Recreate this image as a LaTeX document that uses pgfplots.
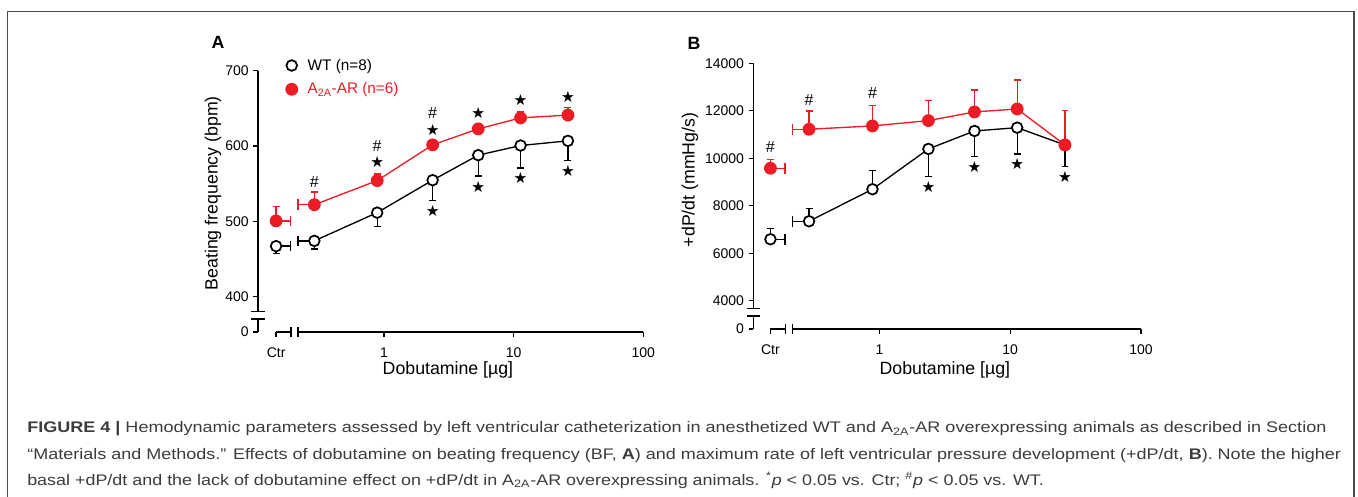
\documentclass[border=0pt]{standalone}
\usepackage{fontspec}
\setmainfont{Liberation Sans}
\newfontfamily\sym{DejaVu Sans}
\usepackage{graphicx}
\usepackage{pgfplots}
\pgfplotsset{compat=1.18}
\definecolor{ared}{RGB}{237,28,36}
\definecolor{capgray}{RGB}{60,60,60}

\pgfplotsset{
  every axis/.append style={
    scale only axis, clip=false,
    axis lines=left, axis line style={draw=none},
    tick align=outside, major tick length=3.5pt,
    tick style={black, line width=0.9pt},
    xticklabel style={yshift=-5pt},
    tick label style={font=\fontsize{10.5}{12}\selectfont},
    label style={font=\fontsize{13.3}{15}\selectfont},
    scaled ticks=false,
  },
  wtline/.style={black, line width=1pt, mark=*, mark size=4pt,
    mark options={fill=white, draw=black, line width=1.3pt}},
  arline/.style={ared, line width=1pt, mark=*, mark size=4.3pt,
    mark options={fill=ared, draw=ared}},
  ebar/.style={only marks, mark=none, forget plot,
    error bars/.cd, y dir=#1, y explicit,
    error bar style={line width=1pt},
    error mark options={rotate=90, mark size=2.6pt, line width=1pt}},
  link/.style={forget plot, line width=1pt, mark=|, mark size=4pt,
    mark options={line width=1pt}},
  signs/.style={only marks, mark=none, forget plot, nodes near coords,
    point meta=explicit symbolic,
    nodes near coords style={anchor=center, inner sep=0pt, black, font=#1}},
}

\begin{document}
\begin{tikzpicture}
\path[use as bounding box] (0,0) rectangle (1018.5pt,372pt);
\draw[black!70, line width=1.1pt] (5.5pt,-2pt) -- (5.5pt,363.2pt) -- (1015.5pt,363.2pt) -- (1015.5pt,-2pt);

\node[font=\bfseries\fontsize{13.3}{15}\selectfont] at (163.5pt,340.5pt) {A};
\node[font=\bfseries\fontsize{13.3}{15}\selectfont] at (520.5pt,339.75pt) {B};

% ---- panel A: beating frequency
\begin{axis}[
  xmode=log, xmin=0.1066, xmax=100,
  xtick={0.147,1,10,100}, xticklabels={Ctr,1,10,100},
  xminorticks=false,
  at={(193.5pt,123pt)}, anchor=south west,
  width=289pt, height=196pt,
  ymin=353, ymax=700,
  ytick={353,400,500,600,700}, yticklabels={0,400,500,600,700},
  xlabel={Dobutamine [µg]},
  ylabel={Beating frequency (bpm)},
  ylabel style={at={(axis description cs:-0.117,0.531)}, anchor=center},
  xlabel style={at={(axis description cs:0.493,-0.146)}, anchor=center},
  legend image code/.code={\path[draw=none,fill=none] (0cm,0cm) -- (0.5cm,0cm); \draw[#1] plot coordinates {(0.15cm,0cm)};},
  legend cell align=left,
  legend style={draw=none, fill=none, at={(axis description cs:0.072,1.056)},
    anchor=north west, font=\fontsize{11.5}{14}\selectfont,
    row sep=4pt, inner sep=0pt},
]
% broken axes
\draw[line width=1pt] (axis cs:0.1066,700) -- (axis cs:0.1066,380.1);
\draw[line width=1pt] ([xshift=-5pt]axis cs:0.1066,380.1) -- ([xshift=5pt]axis cs:0.1066,380.1);
\draw[line width=1pt] ([xshift=-5pt]axis cs:0.1066,370.4) -- ([xshift=5pt]axis cs:0.1066,370.4);
\draw[line width=1pt] (axis cs:0.1066,370.4) -- (axis cs:0.1066,353);
\draw[line width=1pt] (axis cs:0.147,353) -- (axis cs:0.191,353);
\draw[line width=1pt] ([yshift=-4pt]axis cs:0.191,353) -- ([yshift=4pt]axis cs:0.191,353);
\draw[line width=1pt] ([yshift=-4pt]axis cs:0.217,353) -- ([yshift=4pt]axis cs:0.217,353);
\draw[line width=1pt] (axis cs:0.217,353) -- (axis cs:100,353);

% WT
\addplot[black, ebar=minus] coordinates {
  (0.147,467) +- (0,10)
  (0.29,474) +- (0,11)
  (0.885,511.5) +- (0,18.5)
  (2.37,554.6) +- (0,27)
  (5.33,587.8) +- (0,27.8)
  (11.3,600.6) +- (0,30)
  (26.2,606.8) +- (0,26.2)
};
\addplot[black, link, mark indices={2}] coordinates {(0.147,467) (0.19,467)};
\addplot[black, link, mark indices={1}] coordinates {(0.217,474) (0.29,474)};
\addplot[wtline, only marks, forget plot] coordinates {(0.147,467)};
\addplot[wtline] coordinates {
  (0.29,474) (0.885,511.5) (2.37,554.6) (5.33,587.8) (11.3,600.6) (26.2,606.8)
};
\addlegendentry{WT (n=8)}

% A2A-AR
\addplot[ared, ebar=plus] coordinates {
  (0.147,500.5) +- (0,19)
  (0.29,522) +- (0,17)
  (0.885,554) +- (0,9)
  (2.37,601.5) +- (0,2.5)
  (5.33,622.7) +- (0,3)
  (11.3,637.3) +- (0,7.7)
  (26.2,641) +- (0,10)
};
\addplot[ared, link, mark indices={2}] coordinates {(0.147,500.5) (0.19,500.5)};
\addplot[ared, link, mark indices={1}] coordinates {(0.217,522) (0.29,522)};
\addplot[arline, only marks, forget plot] coordinates {(0.147,500.5)};
\addplot[arline] coordinates {
  (0.29,522) (0.885,554) (2.37,601.5) (5.33,622.7) (11.3,637.3) (26.2,641)
};
\addlegendentry{\textcolor{ared}{A\textsubscript{2A}-AR (n=6)}}

\addplot[signs={\fontsize{12}{14}\selectfont}] coordinates {
  (0.29,552.7) [\#] (0.885,600.5) [\#] (2.37,643.5) [\#]
};
\addplot[signs={\sym\fontsize{11.5}{13}\selectfont}] coordinates {
  (0.885,578.5) [★] (2.37,621) [★] (5.33,643.5) [★] (11.3,661) [★] (26.2,665.6) [★]
  (2.37,513.8) [★] (5.33,546) [★] (11.3,558) [★] (26.2,567) [★]
};
\end{axis}

% ---- panel B: +dP/dt
\begin{axis}[
  xmode=log, xmin=0.1088, xmax=100,
  xtick={0.147,1,10,100}, xticklabels={Ctr,1,10,100},
  xminorticks=false,
  at={(565pt,125.25pt)}, anchor=south west,
  width=290.8pt, height=199.3pt,
  ymin=2810, ymax=14000,
  ytick={2810,4000,6000,8000,10000,12000,14000},
  yticklabels={0,4000,6000,8000,10000,12000,14000},
  xlabel={Dobutamine [µg]},
  ylabel={+dP/dt (mmHg/s)},
  ylabel style={at={(axis description cs:-0.163,0.561)}, anchor=center},
  xlabel style={at={(axis description cs:0.494,-0.155)}, anchor=center},
]
\draw[line width=1pt] (axis cs:0.1088,14000) -- (axis cs:0.1088,3680);
\draw[line width=1pt] ([xshift=-5pt]axis cs:0.1088,3680) -- ([xshift=5pt]axis cs:0.1088,3680);
\draw[line width=1pt] ([xshift=-5pt]axis cs:0.1088,3356) -- ([xshift=5pt]axis cs:0.1088,3356);
\draw[line width=1pt] (axis cs:0.1088,3356) -- (axis cs:0.1088,2810);
\draw[line width=1pt] (axis cs:0.147,2810) -- (axis cs:0.191,2810);
\draw[line width=1pt] ([yshift=-4pt]axis cs:0.191,2810) -- ([yshift=4pt]axis cs:0.191,2810);
\draw[line width=1pt] ([yshift=-4pt]axis cs:0.217,2810) -- ([yshift=4pt]axis cs:0.217,2810);
\draw[line width=1pt] (axis cs:0.217,2810) -- (axis cs:100,2810);

% WT
\addplot[black, ebar=plus] coordinates {
  (0.147,6589) +- (0,447)
  (0.29,7347) +- (0,531)
  (0.885,8695) +- (0,783)
};
\addplot[black, ebar=minus] coordinates {
  (2.37,10392) +- (0,1167)
  (5.33,11149) +- (0,1082)
  (11.3,11288) +- (0,1107)
  (26.2,10560) +- (0,914)
};
\addplot[black, link, mark indices={2}] coordinates {(0.147,6589) (0.19,6589)};
\addplot[black, link, mark indices={1}] coordinates {(0.217,7347) (0.29,7347)};
\addplot[wtline, only marks, forget plot] coordinates {(0.147,6589)};
\addplot[wtline] coordinates {
  (0.29,7347) (0.885,8695) (2.37,10392) (5.33,11149) (11.3,11288) (26.2,10560)
};

% A2A-AR
\addplot[ared, ebar=plus] coordinates {
  (0.147,9579) +- (0,379)
  (0.29,11221) +- (0,771)
  (0.885,11361) +- (0,855)
  (2.37,11585) +- (0,843)
  (5.33,11950) +- (0,926)
  (11.3,12076) +- (0,1222)
  (26.2,10560) +- (0,1440)
};
\addplot[ared, link, mark indices={2}] coordinates {(0.147,9579) (0.19,9579)};
\addplot[ared, link, mark indices={1}] coordinates {(0.217,11221) (0.29,11221)};
\addplot[arline, only marks, forget plot] coordinates {(0.147,9579)};
\addplot[arline] coordinates {
  (0.29,11221) (0.885,11361) (2.37,11585) (5.33,11950) (11.3,12076) (26.2,10560)
};

\addplot[signs={\fontsize{12}{14}\selectfont}] coordinates {
  (0.147,10463) [\#] (0.29,12455) [\#] (0.885,12737) [\#]
};
\addplot[signs={\sym\fontsize{11.5}{13}\selectfont}] coordinates {
  (2.37,8804) [★] (5.33,9621) [★] (11.3,9747) [★] (26.2,9225) [★]
};
\end{axis}

% ---- caption
\begin{scope}[every node/.style={anchor=base west, inner sep=0pt, text=capgray,
  font=\fontsize{11.5}{14}\selectfont}]
\node at (20.25pt,47.5pt) {\scalebox{1.176}[1]{\textbf{FIGURE 4 |} Hemodynamic parameters assessed by left ventricular catheterization in anesthetized WT and A\textsubscript{2A}-AR overexpressing animals as described in Section}};
\node at (20.25pt,27.75pt) {\scalebox{1.174}[1]{“Materials and Methods.” Effects of dobutamine on beating frequency (BF, \textbf{A}) and maximum rate of left ventricular pressure development (+dP/dt, \textbf{B}). Note the higher}};
\node at (20.25pt,8.25pt) {\scalebox{1.169}[1]{basal +dP/dt and the lack of dobutamine effect on +dP/dt in A\textsubscript{2A}-AR overexpressing animals. \textsuperscript{*}\textit{p} < 0.05 vs. Ctr; \textsuperscript{\#}\textit{p} < 0.05 vs. WT.}};
\end{scope}
\end{tikzpicture}
\end{document}
